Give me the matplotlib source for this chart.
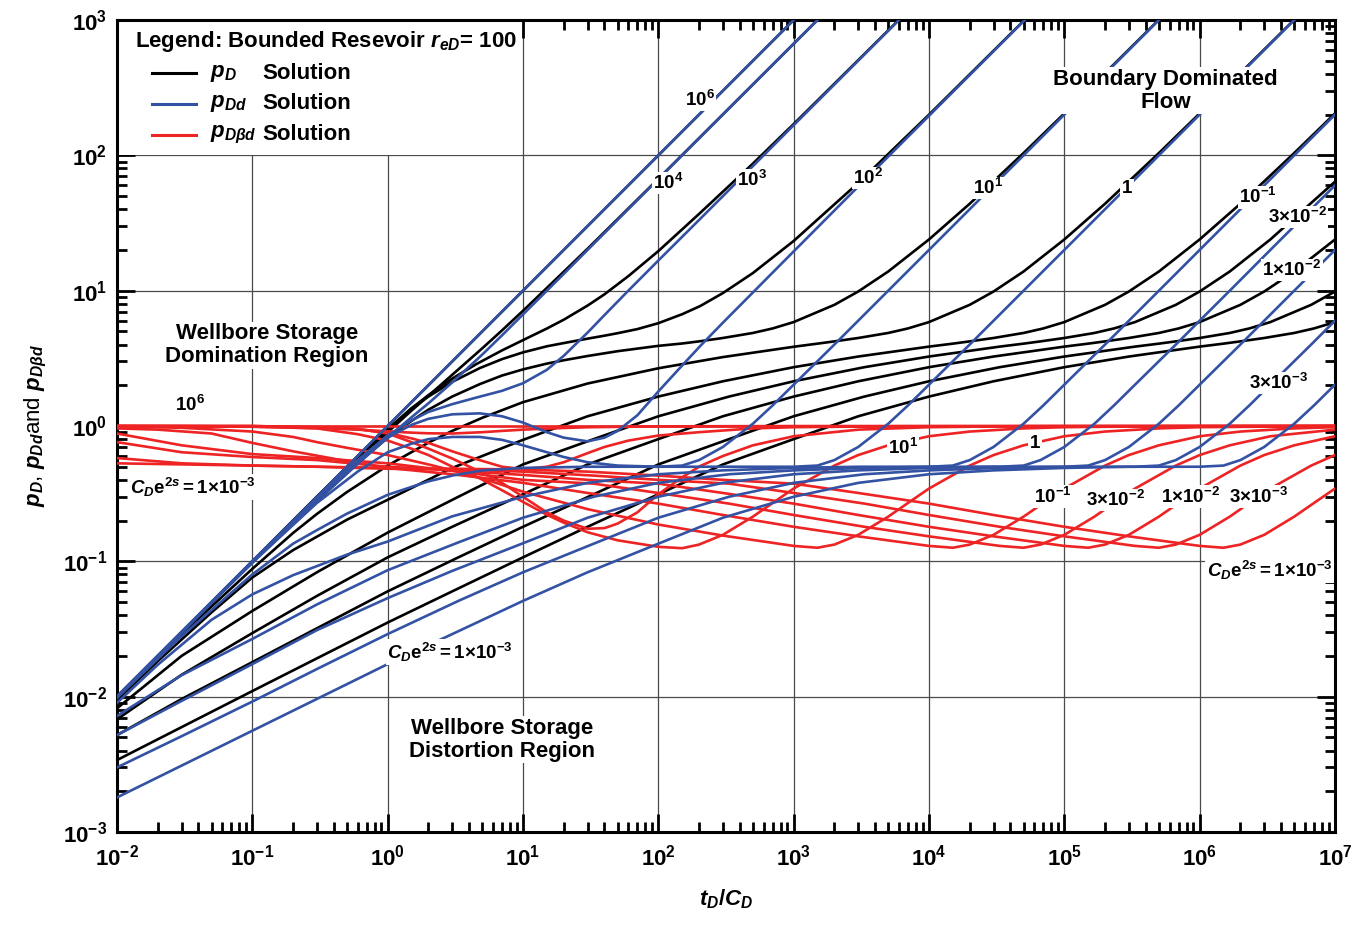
import math
import matplotlib
matplotlib.use('Agg')
import matplotlib.pyplot as plt
from matplotlib.ticker import FixedLocator, FuncFormatter, NullFormatter
from matplotlib.patches import Rectangle

plt.rcParams['font.family'] = ['Liberation Sans', 'DejaVu Sans']
plt.rcParams['font.weight'] = 'bold'
plt.rcParams['mathtext.fontset'] = 'custom'
plt.rcParams['mathtext.rm'] = 'Liberation Sans:bold'
plt.rcParams['mathtext.bf'] = 'Liberation Sans:bold'
plt.rcParams['mathtext.it'] = 'Liberation Sans:italic:bold'

# ---- type curves, t_D/C_D on x; one block per C_D e^2s value ----
# C_D e^2s = 1e6
x_1e6 = [0.01, 1100]
pd_1e6 = [0.01, 1100]
pdd_1e6 = [0.01, 1100]
xb_1e6 = [0.01, 1e7]
pdb_1e6 = [1.0, 1.0]

# C_D e^2s = 1e4
x_1e4 = [0.01, 0.1, 0.3, 0.6, 1, 1.5, 2, 3, 5, 7, 10, 20, 30, 100, 1600]
pd_1e4 = [0.01, 0.099, 0.289, 0.56, 0.90, 1.30, 1.67, 2.39, 3.75, 5.09, 7.1, 13.8, 20.4, 67.1, 1067]
pdd_1e4 = [0.01, 0.0975, 0.279, 0.525, 0.82, 1.16, 1.47, 2.1, 3.37, 4.68, 6.67, 13.3, 20.0, 66.7, 1066]
xb_1e4 = [0.01, 0.1, 0.3, 0.6, 1, 1.5, 2, 3, 5, 7, 10, 20, 30, 100, 1000, 1e7]
pdb_1e4 = [1.0, 0.987, 0.965, 0.94, 0.913, 0.893, 0.883, 0.88, 0.90, 0.92, 0.94, 0.967, 0.979, 0.994, 0.999, 1.0]

# C_D e^2s = 1e3
x_1e3 = [0.01, 0.1, 0.3, 0.6, 1, 1.5, 2, 3, 4.5, 7, 10, 15, 20, 30, 40, 60, 100, 200, 500, 1000, 6500]
pd_1e3 = [0.01, 0.1, 0.30, 0.59, 0.95, 1.35, 1.69, 2.24, 2.86, 3.62, 4.31, 5.25, 6.1, 7.76, 9.4, 12.8, 19.6, 36.9, 86.9, 170.3, 1087]
pdd_1e3 = [0.01, 0.1, 0.295, 0.56, 0.85, 1.1, 1.27, 1.45, 1.62, 1.82, 2.07, 2.6, 3.3, 4.9, 6.6, 10.0, 16.7, 33.3, 83.3, 167, 1083]
xb_1e3 = [0.01, 0.1, 0.3, 0.6, 1, 1.5, 2, 3, 4.5, 7, 10, 15, 20, 30, 40, 60, 100, 200, 500, 1000, 6000, 1e7]
pdb_1e3 = [1.0, 1.0, 0.98, 0.95, 0.89, 0.81, 0.75, 0.65, 0.57, 0.50, 0.48, 0.50, 0.54, 0.63, 0.70, 0.78, 0.85, 0.90, 0.96, 0.98, 0.996, 1.0]

# C_D e^2s = 1e2
x_1e2 = [0.01, 0.1, 0.3, 0.6, 1, 1.5, 2, 3, 4.8, 7, 10, 15, 20, 30, 40, 50, 70, 100, 150, 204, 300, 500, 1000, 3000, 1e4, 5.5e4]
pd_1e2 = [0.01, 0.1, 0.30, 0.58, 0.93, 1.35, 1.65, 2.12, 2.68, 3.12, 3.50, 3.88, 4.10, 4.42, 4.65, 4.85, 5.2, 5.75, 6.7, 7.7, 9.6, 13.5, 23.3, 62.5, 199.7, 1082]
pdd_1e2 = [0.01, 0.1, 0.29, 0.55, 0.82, 1.02, 1.13, 1.22, 1.24, 1.18, 1.06, 0.90, 0.82, 0.77, 0.82, 0.92, 1.2, 1.8, 2.8, 3.9, 5.8, 9.7, 19.5, 58.8, 196, 1078]
xb_1e2 = [0.01, 0.1, 0.3, 0.6, 1, 1.5, 2, 3, 4.8, 7, 10, 15, 20, 30, 40, 50, 70, 100, 150, 204, 300, 500, 1000, 3000, 1e4, 5e4, 1e7]
pdb_1e2 = [1.0, 1.0, 0.97, 0.95, 0.88, 0.76, 0.68, 0.575, 0.46, 0.38, 0.30, 0.23, 0.20, 0.174, 0.176, 0.19, 0.23, 0.313, 0.418, 0.506, 0.60, 0.72, 0.84, 0.94, 0.98, 0.997, 1.0]

# C_D e^2s = 10
x_1e1 = [0.01, 0.03, 0.1, 0.3, 0.6, 1, 1.5, 2, 3, 4.8, 7, 10, 15, 20, 30, 50, 100, 150, 200, 300, 500, 700, 1000, 2000, 3000, 5000, 1e4, 2e4, 5e4, 1e5, 5.5e5]
pd_1e1 = [0.01, 0.03, 0.099, 0.28, 0.53, 0.82, 1.09, 1.32, 1.65, 2.04, 2.36, 2.62, 2.89, 3.06, 3.29, 3.57, 3.91, 4.07, 4.22, 4.47, 4.87, 5.26, 5.86, 7.86, 9.86, 13.86, 23.9, 43.9, 104, 204, 1104]
pdd_1e1 = [0.01, 0.03, 0.098, 0.27, 0.46, 0.64, 0.74, 0.80, 0.83, 0.83, 0.79, 0.72, 0.64, 0.59, 0.54, 0.51, 0.50, 0.51, 0.56, 0.70, 1.04, 1.42, 2.02, 4.0, 6.0, 10.0, 20.0, 40.0, 100, 200, 1100]
xb_1e1 = [0.01, 0.03, 0.1, 0.3, 0.6, 1, 1.5, 2, 3, 4.8, 7, 10, 15, 20, 30, 50, 100, 150, 200, 300, 500, 700, 1000, 2000, 3000, 5000, 1e4, 2e4, 5e4, 1e5, 5e5, 1e7]
pdb_1e1 = [1.0, 1.0, 0.99, 0.96, 0.87, 0.78, 0.68, 0.61, 0.50, 0.41, 0.335, 0.275, 0.221, 0.193, 0.164, 0.143, 0.128, 0.125, 0.133, 0.157, 0.214, 0.27, 0.345, 0.51, 0.61, 0.72, 0.84, 0.91, 0.96, 0.98, 0.996, 1.0]

# C_D e^2s = 1
x_1e0 = [0.01, 0.03, 0.1, 0.2, 0.3, 0.5, 1, 2, 3, 5, 10, 30, 100, 300, 1000, 1500, 2000, 3000, 5000, 7000, 1e4, 2e4, 3e4, 5e4, 1e5, 2e5, 5e5, 1e6, 5.5e6]
pd_1e0 = [0.0099, 0.029, 0.088, 0.162, 0.224, 0.325, 0.51, 0.753, 0.92, 1.15, 1.50, 2.06, 2.67, 3.23, 3.85, 4.06, 4.22, 4.47, 4.87, 5.26, 5.86, 7.86, 9.86, 13.86, 23.9, 43.9, 104, 204, 1104]
pdd_1e0 = [0.0098, 0.028, 0.080, 0.135, 0.17, 0.225, 0.31, 0.39, 0.43, 0.47, 0.49, 0.50, 0.50, 0.50, 0.50, 0.51, 0.56, 0.70, 1.04, 1.42, 2.02, 4.0, 6.0, 10.0, 20.0, 40.0, 100, 200, 1100]
xb_1e0 = [0.01, 0.03, 0.1, 0.2, 0.3, 0.5, 1, 2, 3, 5, 10, 30, 100, 300, 1000, 1500, 2000, 3000, 5000, 7000, 1e4, 2e4, 3e4, 5e4, 1e5, 2e5, 5e5, 1e6, 1e7]
pdb_1e0 = [0.99, 0.97, 0.91, 0.83, 0.76, 0.69, 0.61, 0.52, 0.47, 0.41, 0.327, 0.243, 0.187, 0.155, 0.130, 0.126, 0.133, 0.157, 0.214, 0.27, 0.345, 0.51, 0.61, 0.72, 0.84, 0.91, 0.96, 0.98, 0.998]

# C_D e^2s = 1e-1
x_m1 = [0.01, 0.02, 0.05, 0.1, 0.2, 0.5, 1, 3, 10, 30, 100, 300, 1e3, 3e3, 1e4, 1.5e4, 2e4, 3e4, 5e4, 7e4, 1e5, 2e5, 3e5, 5e5, 1e6, 2e6, 5e6, 1e7]
pd_m1 = [0.0094, 0.0183, 0.042, 0.076, 0.121, 0.203, 0.285, 0.49, 0.79, 1.18, 1.65, 2.14, 2.72, 3.26, 3.86, 4.06, 4.22, 4.47, 4.87, 5.26, 5.86, 7.86, 9.86, 13.86, 23.9, 43.9, 104, 204]
pdd_m1 = [0.0090, 0.0172, 0.037, 0.057, 0.079, 0.112, 0.140, 0.215, 0.30, 0.38, 0.44, 0.47, 0.49, 0.50, 0.50, 0.51, 0.56, 0.70, 1.04, 1.42, 2.02, 4.0, 6.0, 10.0, 20.0, 40.0, 100, 200]
pdb_m1 = [0.96, 0.94, 0.88, 0.75, 0.65, 0.55, 0.49, 0.44, 0.38, 0.32, 0.267, 0.22, 0.18, 0.153, 0.130, 0.126, 0.133, 0.157, 0.214, 0.27, 0.345, 0.51, 0.61, 0.72, 0.84, 0.91, 0.96, 0.98]

# C_D e^2s = 3e-2
x_3m2 = [0.01, 0.03, 0.1, 0.3, 1, 3.33, 10, 33.3, 100, 333, 1e3, 3.33e3, 1e4, 3.33e4, 5e4, 6.67e4, 1e5, 1.67e5, 2.33e5, 3.33e5, 6.67e5, 1e6, 1.67e6, 3.33e6, 1e7]
pd_3m2 = [0.0082, 0.020, 0.043, 0.083, 0.163, 0.30, 0.52, 0.80, 1.18, 1.65, 2.14, 2.72, 3.26, 3.86, 4.06, 4.22, 4.47, 4.87, 5.26, 5.86, 7.86, 9.86, 13.86, 23.9, 63.9]
pdd_3m2 = [0.0072, 0.0144, 0.0267, 0.048, 0.086, 0.138, 0.21, 0.30, 0.38, 0.44, 0.47, 0.49, 0.50, 0.50, 0.51, 0.56, 0.70, 1.04, 1.42, 2.02, 4.0, 6.0, 10.0, 20.0, 60.0]
pdb_3m2 = [0.88, 0.72, 0.62, 0.58, 0.53, 0.46, 0.40, 0.375, 0.32, 0.267, 0.22, 0.18, 0.153, 0.130, 0.126, 0.133, 0.157, 0.214, 0.27, 0.345, 0.51, 0.61, 0.72, 0.84, 0.94]

# C_D e^2s = 1e-2
x_1m2 = [0.01, 0.03, 0.1, 0.3, 1, 3, 10, 30, 100, 300, 1e3, 3e3, 1e4, 3e4, 1e5, 1.5e5, 2e5, 3e5, 5e5, 7e5, 1e6, 2e6, 3e6, 5e6, 1e7]
pd_1m2 = [0.0068, 0.0145, 0.0295, 0.0555, 0.107, 0.18, 0.313, 0.52, 0.80, 1.18, 1.65, 2.14, 2.72, 3.26, 3.86, 4.06, 4.22, 4.47, 4.87, 5.26, 5.86, 7.86, 9.86, 13.86, 23.9]
pdd_1m2 = [0.0052, 0.0093, 0.0174, 0.031, 0.0535, 0.085, 0.136, 0.21, 0.30, 0.38, 0.44, 0.47, 0.49, 0.50, 0.50, 0.51, 0.56, 0.70, 1.04, 1.42, 2.02, 4.0, 6.0, 10.0, 20.0]
pdb_1m2 = [0.76, 0.64, 0.59, 0.56, 0.50, 0.47, 0.435, 0.40, 0.375, 0.32, 0.267, 0.22, 0.18, 0.153, 0.130, 0.126, 0.133, 0.157, 0.214, 0.27, 0.345, 0.51, 0.61, 0.72, 0.84]

# C_D e^2s = 3e-3
x_3m3 = [0.01, 0.03, 0.1, 0.3, 1, 3.33, 10, 33.3, 100, 333, 1e3, 3.33e3, 1e4, 3.33e4, 1e5, 3.33e5, 5e5, 6.67e5, 1e6, 1.67e6, 2.33e6, 3.33e6, 6.67e6, 1e7]
pd_3m3 = [0.0052, 0.0096, 0.018, 0.032, 0.060, 0.107, 0.18, 0.313, 0.52, 0.80, 1.18, 1.65, 2.14, 2.72, 3.26, 3.86, 4.06, 4.22, 4.47, 4.87, 5.26, 5.86, 7.86, 9.86]
pdd_3m3 = [0.0030, 0.0051, 0.0092, 0.016, 0.029, 0.051, 0.083, 0.135, 0.21, 0.30, 0.38, 0.44, 0.47, 0.49, 0.50, 0.50, 0.51, 0.56, 0.70, 1.04, 1.42, 2.02, 4.0, 6.0]
pdb_3m3 = [0.58, 0.53, 0.51, 0.50, 0.483, 0.477, 0.46, 0.43, 0.40, 0.375, 0.32, 0.267, 0.22, 0.18, 0.153, 0.130, 0.126, 0.133, 0.157, 0.214, 0.27, 0.345, 0.51, 0.61]

# C_D e^2s = 1e-3
x_1m3 = [0.01, 0.1, 1, 3, 10, 30, 100, 300, 1e3, 3e3, 1e4, 3e4, 1e5, 3e5, 1e6, 1.5e6, 2e6, 3e6, 5e6, 7e6, 1e7]
pd_1m3 = [0.0034, 0.011, 0.0353, 0.060, 0.107, 0.18, 0.313, 0.52, 0.80, 1.18, 1.65, 2.14, 2.72, 3.26, 3.86, 4.06, 4.22, 4.47, 4.87, 5.26, 5.86]
pdd_1m3 = [0.0018, 0.0056, 0.0174, 0.029, 0.051, 0.083, 0.135, 0.21, 0.30, 0.38, 0.44, 0.47, 0.49, 0.50, 0.50, 0.51, 0.56, 0.70, 1.04, 1.42, 2.02]
pdb_1m3 = [0.53, 0.51, 0.49, 0.483, 0.477, 0.46, 0.43, 0.40, 0.375, 0.32, 0.267, 0.22, 0.18, 0.153, 0.130, 0.126, 0.133, 0.157, 0.214, 0.27, 0.345]

curves = [
    (x_1e6, pd_1e6, pdd_1e6, xb_1e6, pdb_1e6),
    (x_1e4, pd_1e4, pdd_1e4, xb_1e4, pdb_1e4),
    (x_1e3, pd_1e3, pdd_1e3, xb_1e3, pdb_1e3),
    (x_1e2, pd_1e2, pdd_1e2, xb_1e2, pdb_1e2),
    (x_1e1, pd_1e1, pdd_1e1, xb_1e1, pdb_1e1),
    (x_1e0, pd_1e0, pdd_1e0, xb_1e0, pdb_1e0),
    (x_m1, pd_m1, pdd_m1, x_m1, pdb_m1),
    (x_3m2, pd_3m2, pdd_3m2, x_3m2, pdb_3m2),
    (x_1m2, pd_1m2, pdd_1m2, x_1m2, pdb_1m2),
    (x_3m3, pd_3m3, pdd_3m3, x_3m3, pdb_3m3),
    (x_1m3, pd_1m3, pdd_1m3, x_1m3, pdb_1m3),
]

decades_x = [10.0 ** k for k in range(-2, 8)]
decades_y = [10.0 ** k for k in range(-3, 4)]

BLACK = '#000000'
BLUE = '#3352a3'
RED = '#ee2324'
LW = 1.9

fig = plt.figure(figsize=(13.54, 9.27), dpi=100)
ax = fig.add_axes([117 / 1354, 95 / 927, 1218 / 1354, 812 / 927])
ax.set_xscale('log')
ax.set_yscale('log')
ax.set_xlim(1e-2, 1e7)
ax.set_ylim(1e-3, 1e3)

for x, pd_, pdd, xb, pdb in curves:
    ax.plot(x, pd_, color=BLACK, lw=LW, zorder=3, solid_joinstyle='round')
for x, pd_, pdd, xb, pdb in curves:
    ax.plot(xb, pdb, color=RED, lw=LW, zorder=4, solid_joinstyle='round')
for x, pd_, pdd, xb, pdb in curves:
    ax.plot(x, pdd, color=BLUE, lw=LW, zorder=5, solid_joinstyle='round')

# axes, ticks, grid
ax.set_axisbelow(True)
ax.grid(which='major', color='#4a4a4a', lw=0.9)
minor_x = [m * d for d in decades_x[:-1] for m in range(2, 10)]
minor_y = [m * d for d in decades_y[:-1] for m in range(2, 10)]
ax.xaxis.set_major_locator(FixedLocator(decades_x))
ax.yaxis.set_major_locator(FixedLocator(decades_y))
ax.xaxis.set_minor_locator(FixedLocator(minor_x))
ax.yaxis.set_minor_locator(FixedLocator(minor_y))
fmt = FuncFormatter(lambda v, p: r'$\mathbf{10^{%d}}$' % round(math.log10(v)))
ax.xaxis.set_major_formatter(fmt)
ax.yaxis.set_major_formatter(fmt)
ax.xaxis.set_minor_formatter(NullFormatter())
ax.yaxis.set_minor_formatter(NullFormatter())
ax.tick_params(which='both', direction='in', top=True, right=True, width=2.0, labelsize=16)
ax.tick_params(which='major', length=13)
ax.tick_params(which='minor', length=7)
ax.tick_params(axis='x', pad=9)
ax.tick_params(axis='y', pad=7)
for s in ax.spines.values():
    s.set_linewidth(2.2)

ax.set_xlabel(r'$t_D/C_D$', fontsize=16, labelpad=12)
ax.set_ylabel(r'$p_D$, $p_{Dd}$and $p_{D\beta d}$', fontsize=16, labelpad=10)

# legend block in the upper-left corner
ax.add_patch(Rectangle((0, 0.8334), 0.3317, 0.1666, transform=ax.transAxes,
                       facecolor='white', edgecolor='none', zorder=1.5))
ax.text(0.0148, 0.973, r'Legend: Bounded Resevoir $r_{eD}$= 100', transform=ax.transAxes,
        fontsize=16, va='center', ha='left', zorder=6)
leg_rows = [(0.9347, BLACK, r'$p_D$'), (0.8966, BLUE, r'$p_{Dd}$'), (0.8584, RED, r'$p_{D\beta d}$')]
for fy, col, lab in leg_rows:
    ax.plot([0.0287, 0.0649], [fy, fy], transform=ax.transAxes, color=col, lw=2.2, zorder=6)
    ax.text(0.0764, fy, lab, transform=ax.transAxes, fontsize=16, va='center', ha='left', zorder=6)
    ax.text(0.119, fy, 'Solution', transform=ax.transAxes, fontsize=16, va='center', ha='left', zorder=6)

box = dict(facecolor='white', edgecolor='none', pad=1.0)

# region captions
ax.text(0.128, 3.96, 'Wellbore Storage\nDomination Region', fontsize=16, ha='center', va='center',
        linespacing=1.15, bbox=box, zorder=6)
ax.text(7.0, 0.0048, 'Wellbore Storage\nDistortion Region', fontsize=16, ha='center', va='center',
        linespacing=1.15, bbox=box, zorder=6)
ax.text(5.6e5, 300, 'Boundary Dominated\nFlow', fontsize=16, ha='center', va='center',
        linespacing=1.15, bbox=box, zorder=6)

# parameter labels on the curves
curve_labels = [
    (203, 256, r'$\mathbf{10^{6}}$'),
    (118, 62.5, r'$\mathbf{10^{4}}$'),
    (492, 65.8, r'$\mathbf{10^{3}}$'),
    (3540, 68, r'$\mathbf{10^{2}}$'),
    (2.73e4, 57.4, r'$\mathbf{10^{1}}$'),
    (2.9e5, 57, r'$\mathbf{1}$'),
    (2.7e6, 49, r'$\mathbf{10^{-1}}$'),
    (5.3e6, 35, r'$\mathbf{3{\times}10^{-2}}$'),
    (4.8e6, 14.2, r'$\mathbf{1{\times}10^{-2}}$'),
    (3.8e6, 2.08, r'$\mathbf{3{\times}10^{-3}}$'),
    (6430, 0.687, r'$\mathbf{10^{1}}$'),
    (6.07e4, 0.748, r'$\mathbf{1}$'),
    (8.2e4, 0.30, r'$\mathbf{10^{-1}}$'),
    (2.37e5, 0.284, r'$\mathbf{3{\times}10^{-2}}$'),
    (8.5e5, 0.30, r'$\mathbf{1{\times}10^{-2}}$'),
    (2.7e6, 0.30, r'$\mathbf{3{\times}10^{-3}}$'),
    (0.0347, 1.43, r'$\mathbf{10^{6}}$'),
    (0.0365, 0.354, r'$C_D\mathbf{e}^{2s}\mathbf{=1{\times}10^{-3}}$'),
    (2.89, 0.0214, r'$C_D\mathbf{e}^{2s}\mathbf{=1{\times}10^{-3}}$'),
]
for lx, ly, lt in curve_labels:
    ax.text(lx, ly, lt, fontsize=13.5, ha='center', va='center', bbox=box, zorder=7)
ax.text(9.6e6, 0.086, r'$C_D\mathbf{e}^{2s}\mathbf{=1{\times}10^{-3}}$', fontsize=13.5,
        ha='right', va='center', bbox=box, zorder=7)

fig.savefig('out.png', dpi=100)
